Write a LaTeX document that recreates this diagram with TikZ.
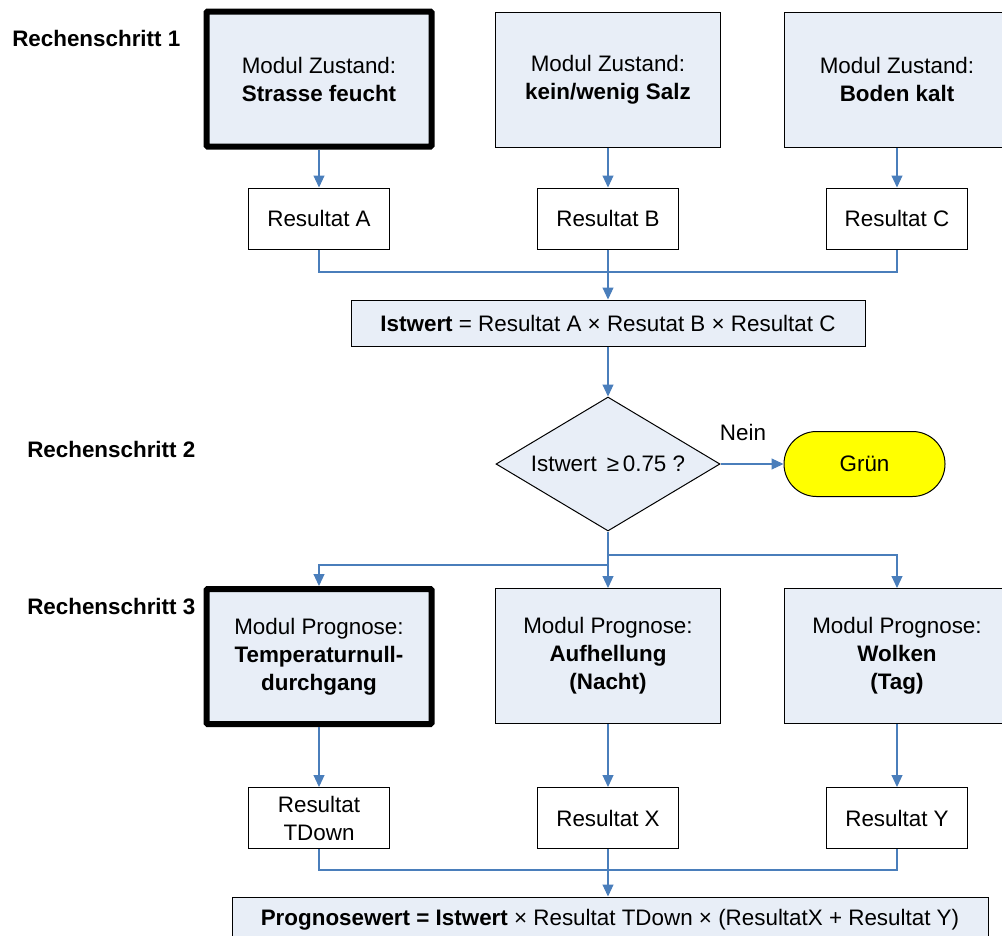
\documentclass[tikz,border=0pt]{standalone}
\usepackage{fontspec}
\setmainfont{Liberation Sans}
\usetikzlibrary{arrows.meta,shapes.geometric,shapes.misc}
\definecolor{boxfill}{HTML}{E8EEF7}
\definecolor{conn}{HTML}{4A7EBB}
\definecolor{gelb}{HTML}{FFFF00}
\begin{document}
\begin{tikzpicture}[x=0.75pt,y=-0.75pt,
  every node/.style={font=\fontsize{16.8}{21}\selectfont, align=center, inner sep=0pt},
  modul/.style={draw=black, line width=0.75pt, fill=boxfill, minimum width=168.75pt, minimum height=101.25pt},
  thickmodul/.style={modul, line width=4.5pt, rounded corners=0.8pt},
  resbox/.style={draw=black, line width=0.75pt, fill=white, minimum width=105.75pt, minimum height=45.75pt},
  formel/.style={draw=black, line width=0.75pt, fill=boxfill, minimum height=34.5pt},
  conline/.style={draw=conn, line width=0.8pt},
  conarrow/.style={conline, -{Triangle[length=9pt,width=8.25pt]}},
  schritt/.style={anchor=west, font=\fontsize{16.8}{21}\selectfont\bfseries}
]
\useasboundingbox (0,0) rectangle (1002,935);
\clip (0,0) rectangle (1002,935);
\fill[white] (0,0) rectangle (1002,935);

% Step labels
\node[schritt] (s1) at (12,38) {Rechenschritt 1};
\node[schritt] (s2) at (27,449) {Rechenschritt 2};
\node[schritt] (s3) at (27,607) {Rechenschritt 3};

% Top modules
\node[thickmodul] (mA) at (319,79) {Modul Zustand:\\\textbf{Strasse feucht}};
\node[modul] (mB) at (608,79.5) {Modul Zustand:\\\textbf{kein/wenig Salz}};
\node[modul] (mC) at (897,79.5) {Modul Zustand:\\\textbf{Boden kalt}};

% Results
\node[resbox] (rA) at (319,218.5) {Resultat A};
\node[resbox] (rB) at (608,218.5) {Resultat B};
\node[resbox] (rC) at (897,218.5) {Resultat C};

% Istwert
\node[formel, minimum width=385.5pt] (ist) at (608,323) {\textbf{Istwert} = Resultat A × Resutat B × Resultat C};

% Decision
\node[diamond, draw=black, line width=0.75pt, fill=boxfill, minimum width=168pt, minimum height=100.5pt, aspect=1.67] (dia) at (608,464) {Istwert\, ≥\,0.75 ?};
\node[rounded rectangle, draw=black, line width=0.75pt, fill=gelb, minimum width=120.75pt, minimum height=48.75pt] (gruen) at (864.5,464) {Grün};
\node (nein) at (743,432) {Nein};

% Bottom modules
\node[thickmodul] (pA) at (319,656.5) {Modul Prognose:\\\textbf{Temperaturnull-}\\\textbf{durchgang}};
\node[modul] (pB) at (608,656) {Modul Prognose:\\\textbf{Aufhellung}\\\textbf{(Nacht)}};
\node[modul] (pC) at (897,656) {Modul Prognose:\\\textbf{Wolken}\\\textbf{(Tag)}};

% Bottom results
\node[resbox] (tA) at (319,818) {Resultat\\TDown};
\node[resbox] (tB) at (608,818) {Resultat X};
\node[resbox] (tC) at (897,818) {Resultat Y};

% Prognosewert
\node[formel, minimum width=567pt] (prog) at (610,920) {\textbf{Prognosewert = Istwert} × Resultat TDown × (ResultatX + Resultat Y)};

% Junction coordinates
\coordinate (j1) at (608,272);
\coordinate (j2) at (608,555);
\coordinate (j3) at (608,565);
\coordinate (j4) at (608,870);

% Connectors top
\draw[conarrow] (mA.south) -- (rA.north);
\draw[conarrow] (mB.south) -- (rB.north);
\draw[conarrow] (mC.south) -- (rC.north);
\draw[conline] (rA.south) |- (j1) -| (rC.south);
\draw[conarrow] (rB.south) -- (ist.north);
\draw[conarrow] (ist.south) -- (dia.north);
\draw[conarrow] (dia.east) -- (gruen.west);

% Branches
\draw[conarrow] (dia.south) -- (pB.north);
\draw[conarrow] (j2) -| (pC.north);
\draw[conarrow] (j3) -| (pA.north);

% Connectors bottom
\draw[conarrow] (pA.south) -- (tA.north);
\draw[conarrow] (pB.south) -- (tB.north);
\draw[conarrow] (pC.south) -- (tC.north);
\draw[conline] (tA.south) |- (j4) -| (tC.south);
\draw[conarrow] (tB.south) -- (tB.south |- prog.north);
\end{tikzpicture}
\end{document}
